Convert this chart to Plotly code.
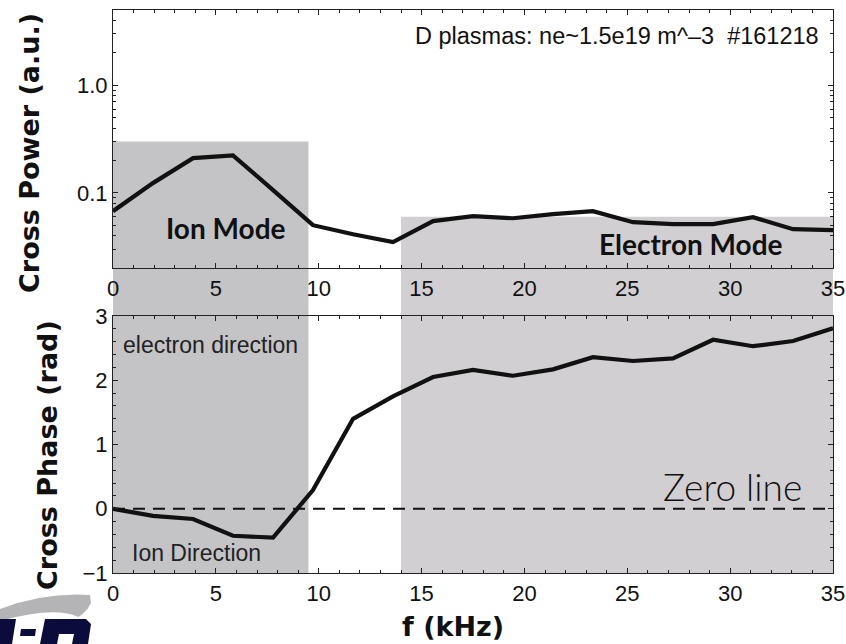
import math
import plotly.graph_objects as go

# ---- data -------------------------------------------------------------
F_KHZ = [0.0, 1.94, 3.89, 5.83, 7.78, 9.72, 11.67, 13.61, 15.56, 17.5,
         19.44, 21.39, 23.33, 25.28, 27.22, 29.17, 31.11, 33.06, 35.0]
CROSS_POWER = [0.0675, 0.123, 0.210, 0.223, 0.106, 0.050, 0.0412, 0.0348,
               0.0545, 0.0606, 0.058, 0.0633, 0.0675, 0.0533, 0.0511,
               0.0511, 0.0593, 0.0459, 0.0449]
CROSS_PHASE = [0.0, -0.11, -0.16, -0.42, -0.45, 0.29, 1.40, 1.75, 2.05,
               2.16, 2.07, 2.17, 2.36, 2.30, 2.34, 2.63, 2.53, 2.61, 2.81]

ION_BAND_KHZ = [0.0, 9.5]
ION_BAND_TOP = 0.30
ELECTRON_BAND_KHZ = [14.0, 35.0]
ELECTRON_BAND_TOP = 0.06

F_TICKS = [0, 5, 10, 15, 20, 25, 30, 35]
POWER_TICKS = [0.1, 1.0]
POWER_TICK_TEXT = ["0.1", "1.0"]
POWER_MINOR = [0.02, 0.03, 0.04, 0.05, 0.06, 0.07, 0.08, 0.09,
               0.2, 0.3, 0.4, 0.5, 0.6, 0.7, 0.8, 0.9, 2, 3, 4, 5]
PHASE_TICKS = [-1, 0, 1, 2, 3]
PHASE_TICK_TEXT = ["\u22121", "0", "1", "2", "3"]

# ---- layout geometry --------------------------------------------------
W, H = 846, 644
X_DOM = [113 / W, 833 / W]
TOP_DOM = [1 - 268 / H, 1 - 10 / H]
BOT_DOM = [1 - 573 / H, 1 - 316 / H]
F_RANGE = [0, 35]
POWER_RANGE = [math.log10(0.02), math.log10(5)]
PHASE_RANGE = [-1, 3]

INK = "#111111"
AXIS = "#222222"
ION_GRAY = "#c4c4c6"
ELECTRON_GRAY = "#d1cfd2"


def px(x):
    return x / W


def py(y):
    return 1 - y / H


def power_to_paper(v):
    t = (math.log10(v) - POWER_RANGE[0]) / (POWER_RANGE[1] - POWER_RANGE[0])
    return TOP_DOM[0] + t * (TOP_DOM[1] - TOP_DOM[0])


fig = go.Figure()

fig.add_trace(go.Scatter(
    x=F_KHZ, y=CROSS_POWER, mode="lines", xaxis="x", yaxis="y",
    line=dict(color=INK, width=4.2), showlegend=False, hoverinfo="skip"))
fig.add_trace(go.Scatter(
    x=F_KHZ, y=CROSS_PHASE, mode="lines", xaxis="x2", yaxis="y2",
    line=dict(color=INK, width=4.2), showlegend=False, hoverinfo="skip"))
# zero reference in the phase panel
fig.add_trace(go.Scatter(
    x=F_RANGE, y=[0, 0], mode="lines", xaxis="x2", yaxis="y2",
    line=dict(color=INK, width=2, dash="12px,8px"),
    showlegend=False, hoverinfo="skip"))

axis_common = dict(
    showline=True, linecolor=AXIS, linewidth=1.2, mirror="allticks",
    ticks="inside", ticklen=5, tickwidth=1, tickcolor=AXIS,
    showgrid=False, zeroline=False, automargin=False,
    tickfont=dict(family="Liberation Sans, Arial, sans-serif", size=22, color=INK),
)

x_common = dict(axis_common, domain=X_DOM, range=F_RANGE, tickmode="array",
                tickvals=F_TICKS, ticktext=[str(t) for t in F_TICKS],
                minor=dict(ticks="inside", ticklen=3, tickcolor=AXIS,
                           tickmode="linear", tick0=0, dtick=1, showgrid=False))

fig.update_layout(
    template="none",
    width=W, height=H,
    margin=dict(l=0, r=0, t=0, b=0, autoexpand=False),
    paper_bgcolor="white", plot_bgcolor="rgba(0,0,0,0)",
    xaxis=dict(x_common, anchor="y"),
    xaxis2=dict(x_common, anchor="y2"),
    yaxis=dict(axis_common, domain=TOP_DOM, type="log", range=POWER_RANGE,
               anchor="x", tickmode="array", tickvals=POWER_TICKS,
               ticktext=POWER_TICK_TEXT,
               minor=dict(ticks="inside", ticklen=3, tickcolor=AXIS,
                          tickmode="array", tickvals=POWER_MINOR, showgrid=False)),
    yaxis2=dict(axis_common, domain=BOT_DOM, range=PHASE_RANGE, anchor="x2",
                tickmode="array", tickvals=PHASE_TICKS, ticktext=PHASE_TICK_TEXT,
                minor=dict(ticks="inside", ticklen=3, tickcolor=AXIS,
                           tickmode="linear", tick0=0, dtick=0.2, showgrid=False)),
)

# shaded frequency bands spanning both panels
fig.add_shape(type="rect", xref="x2", yref="paper",
              x0=ION_BAND_KHZ[0], x1=ION_BAND_KHZ[1],
              y0=BOT_DOM[0], y1=power_to_paper(ION_BAND_TOP),
              fillcolor=ION_GRAY, line=dict(width=0), layer="below")
fig.add_shape(type="rect", xref="x2", yref="paper",
              x0=ELECTRON_BAND_KHZ[0], x1=ELECTRON_BAND_KHZ[1],
              y0=BOT_DOM[0], y1=power_to_paper(ELECTRON_BAND_TOP),
              fillcolor=ELECTRON_GRAY, line=dict(width=0), layer="below")


# partial logo in the lower-left corner
def path_from_pixels(points):
    """Build an SVG path in paper units; every segment gets its own command."""
    parts = []
    for cmd, pts in points:
        if cmd in ("M", "L"):
            for x, y in pts:
                parts.append(f"{cmd} {px(x):.5f},{py(y):.5f}")
                cmd = "L"
        else:
            coords = " ".join(f"{px(x):.5f},{py(y):.5f}" for x, y in pts)
            parts.append(f"{cmd} {coords}")
    return " ".join(parts) + " Z"


swoosh = [("M", [(0, 609)]), ("Q", [(45, 592), (90, 595)]),
          ("L", [(91, 603)]), ("Q", [(86, 613), (78, 617)]),
          ("Q", [(55, 606), (0, 621)])]
fig.add_shape(type="path", xref="paper", yref="paper",
              path=path_from_pixels(swoosh),
              fillcolor="#b4b4b6", line=dict(width=0), layer="above")
logo_left = [("M", [(0, 619)]), ("L", [(16, 619), (12, 644), (0, 644)])]
logo_dash = [("M", [(21, 629)]), ("L", [(36, 629), (35, 636), (20, 636)])]
logo_letter = [("M", [(45, 619)]), ("L", [(86, 619), (91, 624), (88, 644),
                                          (72, 644), (74, 634), (59, 634),
                                          (57, 644), (40, 644)])]
for shape_pts in (logo_left, logo_dash, logo_letter):
    fig.add_shape(type="path", xref="paper", yref="paper",
                  path=path_from_pixels(shape_pts),
                  fillcolor="#0b0b3c", line=dict(width=0), layer="above")

# ---- text -------------------------------------------------------------
title_font = dict(family="DejaVu Sans, Arial, sans-serif", size=27, color=INK)
mode_font = dict(family="Lato, Open Sans, sans-serif", size=28, color=INK)
label_font = dict(family="Liberation Sans, Arial, sans-serif", size=23, color="#222222")

annotations = [
    dict(text="<b>Cross Power (a.u.)</b>", x=px(30), y=py(153), textangle=-90,
         font=title_font),
    dict(text="<b>Cross Phase (rad)</b>", x=px(47), y=py(455), textangle=-90,
         font=title_font),
    dict(text="<b>f (kHz)</b>", x=px(453), y=py(626), font=title_font),
    dict(text="D plasmas: ne~1.5e19 m^\u20133  #161218", x=px(617), y=py(36),
         font=dict(family="Liberation Sans, Arial, sans-serif", size=23.5, color=INK)),
    dict(text="<b>Ion Mode</b>", x=px(226), y=py(228), font=mode_font),
    dict(text="<b>Electron Mode</b>", x=px(691), y=py(244), font=mode_font),
    dict(text="electron direction", x=px(210), y=py(345), font=label_font),
    dict(text="Ion Direction", x=px(196), y=py(553), font=label_font),
    dict(text="Zero line", x=px(732), y=py(486),
         font=dict(family="Lato, sans-serif", size=37, color=INK, weight=300)),
]
for a in annotations:
    a.update(xref="paper", yref="paper", showarrow=False,
             xanchor="center", yanchor="middle")
fig.update_layout(annotations=annotations)

fig.write_html("out.html")
